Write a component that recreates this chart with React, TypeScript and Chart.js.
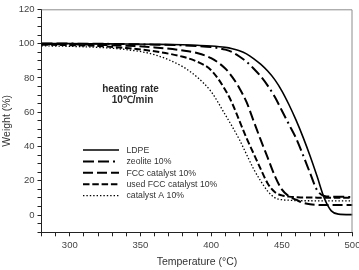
import React, { useEffect, useRef } from 'react';
import { Chart, registerables } from 'chart.js';

Chart.register(...registerables);

// TGA curves sampled on a shared temperature grid (°C)
const temperatures = [280, 300, 320, 340, 360, 380, 390, 400, 410, 415, 420, 425, 430, 435, 440, 445, 450, 455, 460, 465, 470, 475, 480, 485, 490, 500];

const ldpe = [100, 100, 99.9, 99.8, 99.6, 99.3, 99.0, 98.6, 97.8, 97.0, 95.8, 94.0, 91.3, 88.0, 84.0, 79.0, 72.5, 64.5, 55.5, 45.5, 34.5, 22.5, 10.0, 2.5, 0.6, 0.3];
const zeolite = [100, 100, 99.9, 99.7, 99.4, 99.0, 98.6, 98.0, 96.5, 95.0, 92.5, 89.5, 85.5, 81.0, 75.5, 69.0, 61.0, 53.0, 45.0, 35.0, 24.5, 14.5, 11.2, 10.8, 10.7, 10.6];
const fccCatalyst = [99.8, 99.6, 99.3, 98.8, 97.8, 96.0, 94.5, 91.5, 85.5, 80.5, 74.0, 66.0, 55.0, 44.0, 33.5, 23.0, 15.0, 11.0, 9.0, 7.2, 6.3, 6.0, 5.9, 5.9, 5.9, 5.9];
const usedFccCatalyst = [99.4, 99.1, 98.6, 97.4, 95.5, 92.3, 89.5, 84.5, 73.0, 65.0, 55.0, 45.0, 36.0, 27.0, 18.5, 13.5, 11.5, 10.8, 10.5, 10.3, 10.3, 10.2, 10.2, 10.2, 10.2, 10.2];
const catalystA = [98.7, 98.4, 97.8, 96.5, 93.5, 86.5, 80.5, 72.0, 58.5, 51.5, 44.0, 35.5, 27.0, 20.0, 14.0, 10.2, 9.0, 8.7, 8.5, 8.4, 8.4, 8.3, 8.3, 8.3, 8.3, 8.3];

const seriesLabels = ['LDPE', 'zeolite 10%', 'FCC catalyst 10%', 'used FCC catalyst 10%', 'catalyst A 10%'];
const annotationLines = ['heating rate', '10℃/min'];

const FONT = '"Liberation Sans", Arial, sans-serif';

const toPoints = (values: number[]) => temperatures.map((t, i) => ({ x: t, y: values[i] }));

// Legend drawn inside the plot, plus the heating-rate note and the grey frame
const overlayPlugin = {
  id: 'overlay',
  afterDraw(chart: any) {
    const { ctx, chartArea } = chart;
    ctx.save();

    // top and right frame lines
    ctx.strokeStyle = '#8c8c8c';
    ctx.lineWidth = 1;
    ctx.beginPath();
    ctx.moveTo(chartArea.left, chartArea.top + 0.5);
    ctx.lineTo(chartArea.right - 0.5, chartArea.top + 0.5);
    ctx.lineTo(chartArea.right - 0.5, chartArea.bottom);
    ctx.stroke();

    // heating-rate note
    ctx.fillStyle = '#2a2a2a';
    ctx.font = `bold 10px ${FONT}`;
    ctx.textAlign = 'center';
    ctx.textBaseline = 'middle';
    ctx.fillText(annotationLines[0], 130.5, 89.5);
    ctx.fillText(annotationLines[1], 132.5, 100.5);

    // legend
    const x0 = 83;
    const x1 = 119;
    const textX = 126.5;
    const y0 = 150;
    const rowGap = 11.4;
    chart.data.datasets.forEach((ds: any, i: number) => {
      const y = y0 + i * rowGap;
      ctx.strokeStyle = ds.borderColor;
      ctx.lineWidth = ds.borderWidth;
      ctx.setLineDash(ds.borderDash || []);
      ctx.beginPath();
      ctx.moveTo(x0, y);
      ctx.lineTo(x1, y);
      ctx.stroke();
      ctx.setLineDash([]);
      ctx.fillStyle = '#333';
      ctx.font = `8.7px ${FONT}`;
      ctx.textAlign = 'left';
      ctx.textBaseline = 'middle';
      ctx.fillText(ds.label, textX, y + 0.5);
    });

    ctx.restore();
  },
};

export default function App() {
  const canvasRef = useRef<HTMLCanvasElement | null>(null);

  useEffect(() => {
    if (!canvasRef.current) return;
    const lineBase = {
      pointRadius: 0,
      fill: false,
      cubicInterpolationMode: 'monotone' as const,
      borderColor: '#000',
    };
    const chart = new Chart(canvasRef.current, {
      type: 'line',
      data: {
        datasets: [
          { ...lineBase, label: seriesLabels[0], data: toPoints(ldpe), borderWidth: 1.6, borderDash: [] },
          { ...lineBase, label: seriesLabels[1], data: toPoints(zeolite), borderWidth: 2, borderDash: [11, 4, 11, 4, 2, 4] },
          { ...lineBase, label: seriesLabels[2], data: toPoints(fccCatalyst), borderWidth: 2, borderDash: [10, 4] },
          { ...lineBase, label: seriesLabels[3], data: toPoints(usedFccCatalyst), borderWidth: 2, borderDash: [6.5, 2.8] },
          { ...lineBase, label: seriesLabels[4], data: toPoints(catalystA), borderWidth: 1.3, borderDash: [1.4, 2] },
        ],
      },
      options: {
        animation: false,
        responsive: false,
        devicePixelRatio: 1,
        layout: { padding: { top: 9.3, right: 6.5, left: 0, bottom: 0 } },
        plugins: { legend: { display: false }, tooltip: { enabled: false } },
        scales: {
          x: {
            type: 'linear',
            min: 280,
            max: 500,
            ticks: {
              stepSize: 10,
              autoSkip: false,
              maxRotation: 0,
              padding: 3,
              color: '#444',
              font: { family: FONT, size: 9.5 },
              callback: (v: any) => (Number(v) % 50 === 0 ? String(v) : ''),
            },
            grid: { drawOnChartArea: false, drawTicks: true, tickLength: 4, tickColor: '#222' },
            border: { color: '#222', width: 1 },
            title: {
              display: true,
              text: 'Temperature (°C)',
              color: '#333',
              font: { family: FONT, size: 10.5 },
              padding: { top: 0, bottom: 2 },
            },
            afterFit: (s: any) => {
              s.height = 37.7;
              s.paddingLeft = 0;
              s.paddingRight = 0;
            },
          },
          y: {
            type: 'linear',
            min: -10,
            max: 120,
            ticks: {
              stepSize: 5,
              autoSkip: false,
              padding: 3,
              color: '#444',
              font: { family: FONT, size: 9.5 },
              callback: (v: any) => (Number(v) % 20 === 0 ? String(v) : ''),
            },
            grid: { drawOnChartArea: false, drawTicks: true, tickLength: 4, tickColor: '#222' },
            border: { color: '#222', width: 1 },
            title: {
              display: true,
              text: 'Weight (%)',
              color: '#333',
              font: { family: FONT, size: 10.5 },
              padding: { top: 0.5, bottom: 0 },
            },
            afterFit: (s: any) => {
              s.width = 41.5;
              s.paddingTop = 0;
              s.paddingBottom = 0;
            },
          },
        },
      },
      plugins: [overlayPlugin],
    });
    return () => chart.destroy();
  }, []);

  return (
    <div style={{ position: 'fixed', left: 0, top: 0, width: 359, height: 270, background: '#fff' }}>
      <canvas ref={canvasRef} width={359} height={270} style={{ width: 359, height: 270, display: 'block' }} />
    </div>
  );
}
